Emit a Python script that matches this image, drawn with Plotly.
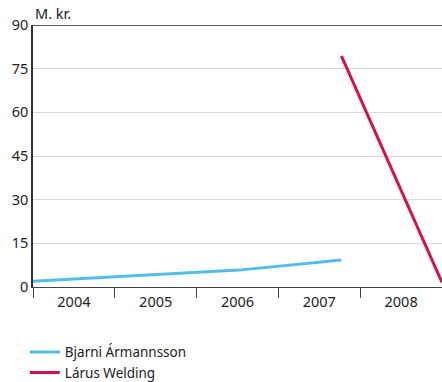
import plotly.graph_objects as go

# Payments per person, million ISK, by fractional year
years = [2004, 2005, 2006, 2007, 2008]
bjarni_x = [2004.0, 2006.52, 2007.77]
bjarni_y = [2.0, 5.8, 9.3]
larus_x = [2007.77, 2009.0]
larus_y = [79.4, 1.6]
y_ticks = [0, 15, 30, 45, 60, 75, 90]

BLUE = "#52BDEA"
RED = "#D4114B"
FONT = "Noto Sans"

fig = go.Figure()
fig.add_trace(go.Scatter(x=bjarni_x, y=bjarni_y, mode="lines", name="Bjarni Ármannsson",
                         line=dict(color=BLUE, width=3)))
fig.add_trace(go.Scatter(x=larus_x, y=larus_y, mode="lines", name="Lárus Welding",
                         line=dict(color=RED, width=3)))

fig.update_layout(
    width=442, height=382,
    margin=dict(l=33, r=0, t=25, b=95, autoexpand=False),
    paper_bgcolor="white", plot_bgcolor="white",
    font=dict(family=FONT, size=14, color="#222"),
    showlegend=True,
    legend=dict(x=-0.02, y=-0.19, xanchor="left", yanchor="top",
                font=dict(size=13.5, color="#222"), tracegroupgap=0,
                itemwidth=30, bgcolor="rgba(0,0,0,0)"),
    xaxis=dict(
        range=[2004, 2009], showgrid=False, zeroline=False,
        showline=True, linecolor="#444", linewidth=1.2,
        tickmode="array", tickvals=[y + 0.5 for y in years],
        ticktext=[str(y) for y in years], ticks="outside", ticklen=1,
        tickcolor="rgba(0,0,0,0)",
        tickfont=dict(size=14.5, color="#222"),
        minor=dict(tickmode="array", tickvals=years + [2009], ticks="outside",
                   ticklen=10, tickcolor="#444", tickwidth=1.2, showgrid=False),
    ),
    yaxis=dict(
        range=[0, 90], tickmode="array", tickvals=y_ticks,
        showgrid=True, gridcolor="#d9d9d9", gridwidth=1, zeroline=False,
        showline=True, linecolor="#333", linewidth=1.5, ticks="",
        tickfont=dict(size=14.5, color="#222"),
    ),
)

# top border line at 90
fig.add_shape(type="line", xref="paper", yref="y", x0=0, x1=1, y0=90, y1=90,
              line=dict(color="#222", width=1.5))

fig.add_annotation(text="M. kr.", xref="paper", yref="paper", x=0.0, y=1.0,
                   xanchor="left", yanchor="bottom", yshift=0, showarrow=False,
                   font=dict(size=14.5, color="#222"))

fig.write_html("out.html")
